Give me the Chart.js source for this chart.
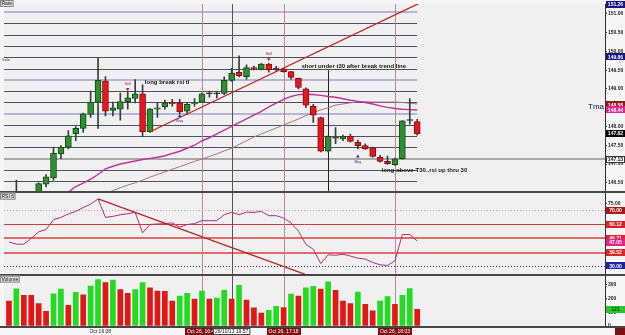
<!DOCTYPE html>
<html>
<head>
<meta charset="utf-8">
<title>Rate / RSI / Volume</title>
<script src="https://cdn.jsdelivr.net/npm/chart.js@4.4.1/dist/chart.umd.min.js"></script>
<style>
    html, body { margin: 0; padding: 0; background: #f4f4f4; overflow: hidden; }
    canvas { display: block; }
</style>
</head>
<body>
<canvas id="rateChart" width="625" height="335"></canvas>
<script>
// Candles, oldest first
const opens  = [146.15, 146.00, 146.10, 146.00, 146.20, 146.46, 146.63, 147.27, 147.45, 147.80,
                147.95, 148.32, 148.65, 149.21, 148.43, 148.46, 148.66, 148.75, 148.87, 147.86,
                148.46, 148.52, 148.63, 148.63, 148.41, 148.60, 148.65, 148.87, 148.88, 148.88,
                149.23, 149.44, 149.33, 149.57, 149.53, 149.66, 149.52, 149.53, 149.46, 149.28,
                149.00, 148.54, 148.24, 147.34, 147.69, 147.67, 147.74, 147.58, 147.49, 147.43,
                147.18, 147.07, 146.98, 147.14, 148.16, 148.13];
const highs  = [146.20, 146.57, 146.22, 146.20, 146.50, 146.72, 147.45, 147.49, 147.89, 148.00,
                148.36, 148.94, 149.82, 149.33, 148.65, 148.89, 148.94, 149.25, 149.11, 148.48,
                148.63, 148.70, 148.72, 148.72, 148.63, 148.74, 148.89, 148.94, 148.91, 149.32,
                149.55, 149.88, 149.64, 149.61, 149.68, 149.68, 149.60, 149.55, 149.47, 149.29,
                149.03, 148.59, 148.25, 147.75, 147.97, 147.77, 147.80, 147.64, 147.54, 147.45,
                147.23, 147.21, 147.16, 148.16, 148.74, 148.19];
const lows   = [145.90, 145.90, 145.95, 145.85, 146.10, 146.39, 146.57, 147.14, 147.40, 147.62,
                147.84, 148.24, 147.95, 148.28, 148.28, 148.17, 148.46, 148.63, 147.73, 147.84,
                148.24, 148.46, 148.54, 148.34, 148.32, 148.54, 148.65, 148.78, 148.76, 148.85,
                149.20, 149.32, 149.26, 149.51, 149.51, 149.45, 149.46, 149.45, 149.26, 149.00,
                148.50, 148.11, 147.32, 147.32, 147.54, 147.62, 147.58, 147.40, 147.39, 147.18,
                147.05, 146.99, 146.96, 147.13, 148.06, 147.77];
const closes = [146.00, 146.20, 146.00, 146.15, 146.48, 146.66, 147.29, 147.45, 147.75, 147.95,
                148.34, 148.65, 149.23, 148.41, 148.50, 148.66, 148.76, 148.87, 147.86, 148.47,
                148.50, 148.63, 148.61, 148.39, 148.59, 148.63, 148.87, 148.88, 148.87, 149.23,
                149.42, 149.35, 149.57, 149.54, 149.66, 149.51, 149.53, 149.46, 149.31, 149.04,
                148.57, 148.30, 147.34, 147.74, 147.70, 147.74, 147.60, 147.49, 147.40, 147.20,
                147.07, 147.01, 147.14, 148.15, 148.17, 147.80];

// moving averages on the price pane (magenta = fast, brown = slow)
const maFast = [null, null, null, null, null, null, null, null, 146.25, 146.40,
                146.49, 146.60, 146.72, 146.87, 146.94, 147.00, 147.04, 147.08, 147.12, 147.15,
                147.18, 147.22, 147.28, 147.34, 147.42, 147.50, 147.62, 147.70, 147.80, 147.90,
                148.00, 148.10, 148.20, 148.30, 148.40, 148.52, 148.62, 148.72, 148.80, 148.85,
                148.86, 148.85, 148.83, 148.80, 148.78, 148.74, 148.70, 148.67, 148.64, 148.60,
                148.55, 148.51, 148.48, 148.46, 148.45, 148.44];
const maSlow = [null, null, null, null, null, null, null, null, null, null,
                null, null, null, 146.22, 146.29, 146.37, 146.44, 146.50, 146.57, 146.65,
                146.72, 146.79, 146.86, 146.93, 147.00, 147.07, 147.13, 147.20, 147.27, 147.35,
                147.42, 147.52, 147.62, 147.72, 147.80, 147.88, 147.96, 148.04, 148.12, 148.20,
                148.29, 148.37, 148.44, 148.50, 148.57, 148.60, 148.63, 148.66, 148.66, 148.65,
                148.65, 148.65, 148.65, 148.64, 148.62, 148.60];

// RSI pane
const rsi = [47.2, 45.6, 45.6, 49.8, 54.5, 56.2, 63.3, 65.0, 67.4, 69.3,
             72.1, 74.5, 78.3, 65.0, 65.7, 66.9, 67.6, 68.6, 53.8, 59.8,
             60.2, 60.5, 61.0, 57.9, 59.8, 60.5, 62.6, 62.6, 62.6, 66.9,
             68.6, 66.9, 68.8, 68.6, 69.3, 66.2, 66.2, 64.5, 61.0, 55.0,
             45.5, 41.9, 31.6, 37.9, 37.6, 38.3, 37.0, 35.5, 34.8, 32.4,
             30.7, 30.2, 33.6, 52.6, 52.6, 47.9];
const rsiLevels = [70, 60.12, 49.71, 39.52, 30];

// Volume pane
const volumes = [181, 269, 221, 221, 162, 107, 233, 267, 150, 243,
                 226, 288, 336, 314, 331, 264, 236, 264, 314, 276,
                 252, 250, 181, 217, 236, 195, 252, 195, 202, 257,
                 195, 293, 188, 131, 93, 114, 143, 133, 231, 217,
                 276, 286, 267, 319, 257, 181, 162, 245, 157, 109,
                 181, 212, 157, 221, 271, 121];
const volDirs = ['r', 'g', 'r', 'r', 'r', 'r', 'g', 'g', 'r', 'g',
                 'r', 'g', 'g', 'r', 'g', 'r', 'r', 'g', 'g', 'r',
                 'r', 'r', 'r', 'g', 'g', 'r', 'g', 'r', 'g', 'g',
                 'r', 'g', 'r', 'r', 'r', 'g', 'g', 'r', 'g', 'r',
                 'g', 'g', 'r', 'g', 'r', 'r', 'r', 'g', 'r', 'r',
                 'g', 'g', 'r', 'g', 'g', 'r'];

// horizontal levels drawn over the candles
const darkLevels  = [150.75, 150.45, 150.15, 149.84, 149.54, 148.95, 148.65, 148.04,
                     147.75, 147.45, 147.16, 146.85, 146.55];
const lightLevels = [151.04, 149.25, 148.34];
const rangeLine = 147.13;

// trend lines (bar index, value)
const priceTrend = [{ x: 19, y: 147.86 }, { x: 56, y: 151.35 }];
const rsiTrend   = [{ x: 12, y: 78.3 }, { x: 40, y: 23.6 }];

// signals
const sellBars = [16, 35];
const sellAt   = [149.00, 149.79];
const buyBars  = [23, 47];
const buyAt    = [148.28, 147.20];

// axis ticks and value tags
const priceTicks = [146.5, 147, 147.5, 148, 148.5, 149, 149.5, 150, 150.5, 151];
const rsiTicks = [30, 40, 50, 60, 70, 75];
const volTicks = [0, 100, 200, 300];
const priceTags = [151.26, 149.86, 148.58, 148.44, 147.82, 147.13];
const rsiTags = [70, 60.12, 49.71, 47.05, 39.52, 30];

// time axis
const timeBars = [26, 30, 37, 52];
const timeLabels = ['Oct 26, 16:41', '26/10/13 19:57', 'Oct 26, 17:18', 'Oct 26, 18:03'];

// notes written on the chart
const notes = [
    { x: 18.3, y: 149.18, text: 'long break rsi tl' },
    { x: 39.4, y: 149.61, text: 'short under t30 after break trend line' },
    { x: 50.2, y: 146.84, text: 'long-above-T30..rsi up thru 30' }
];

const FONT = '"Liberation Sans", Arial, sans-serif';

function candleFill(i) {
    const d = closes[i] - opens[i];
    if (Math.abs(d) < 0.015) return '#333333';
    return d > 0 ? '#2f8f2f' : '#e8161c';
}
function candleEdge(i) {
    const d = closes[i] - opens[i];
    if (Math.abs(d) < 0.015) return '#333333';
    return d > 0 ? '#15491a' : '#7c1010';
}

// fixed width for every right hand axis
function fixAxis(scale) {
    scale.width = 20;
    scale.paddingTop = 0;
    scale.paddingBottom = 0;
}

function tag(ctx, y, text, bg, fg, edge) {
    ctx.fillStyle = bg;
    ctx.fillRect(606, Math.round(y - 3.5), 19, 7);
    if (edge) {
        ctx.strokeStyle = edge;
        ctx.lineWidth = 1;
        ctx.strokeRect(606.5, Math.round(y - 3.5) + 0.5, 18, 6);
    }
    ctx.fillStyle = fg;
    ctx.fillText(text, 615.5, y + 0.5);
}

function hLine(ctx, y, x0, x1, color, width, dash) {
    ctx.beginPath();
    ctx.setLineDash(dash || []);
    ctx.strokeStyle = color;
    ctx.lineWidth = width;
    const yy = width % 2 ? Math.round(y) + 0.5 : Math.round(y);
    ctx.moveTo(x0, yy);
    ctx.lineTo(x1, yy);
    ctx.stroke();
    ctx.setLineDash([]);
}

function vLine(ctx, x, y0, y1, color) {
    ctx.beginPath();
    ctx.strokeStyle = color;
    ctx.lineWidth = 1;
    const xx = Math.round(x) + 0.5;
    ctx.moveTo(xx, y0);
    ctx.lineTo(xx, y1);
    ctx.stroke();
}

function paneLabel(ctx, x, y, text) {
    ctx.font = '5px ' + FONT;
    const w = ctx.measureText(text).width + 3;
    ctx.fillStyle = '#dcdcdc';
    ctx.fillRect(x, y, w, 7);
    ctx.strokeStyle = '#888';
    ctx.lineWidth = 1;
    ctx.strokeRect(x + 0.5, y + 0.5, w - 1, 6);
    ctx.fillStyle = '#222';
    ctx.textAlign = 'left';
    ctx.textBaseline = 'middle';
    ctx.fillText(text, x + 1.5, y + 3.8);
}

// background, levels and marker lines under the data
const extras = {
    id: 'extras',
    beforeDraw(chart) {
        const ctx = chart.ctx;
        const a = chart.chartArea;
        ctx.save();
        ctx.fillStyle = '#f6f6f6';
        ctx.fillRect(0, 0, chart.width, chart.height);
        ctx.fillStyle = '#f0f0f0';
        ctx.fillRect(a.left, a.top, a.right - a.left, a.bottom - a.top);
        ctx.restore();
    },
    beforeDatasetsDraw(chart) {
        const { ctx, scales } = chart;
        const xs = scales.x, ps = scales.y, rs = scales.rsi;
        const a = chart.chartArea;
        const xEnd = xs.getPixelForValue(opens.length - 1);
        ctx.save();

        darkLevels.forEach(v => hLine(ctx, ps.getPixelForValue(v), a.left, xEnd, '#4e5064', 1));
        lightLevels.forEach(v => hLine(ctx, ps.getPixelForValue(v), a.left, xEnd, '#b4b4dc', 2));
        hLine(ctx, ps.getPixelForValue(rangeLine), a.left, a.right, '#a9a9a9', 2);

        // rsi bands
        hLine(ctx, rs.getPixelForValue(rsiLevels[0]), a.left, a.right, '#d49494', 1, [1, 2]);
        hLine(ctx, rs.getPixelForValue(rsiLevels[1]), a.left, a.right, '#d23838', 1);
        hLine(ctx, rs.getPixelForValue(rsiLevels[2]), a.left, a.right, '#e46a6a', 2);
        hLine(ctx, rs.getPixelForValue(rsiLevels[3]), a.left, a.right, '#e46a6a', 2);
        hLine(ctx, rs.getPixelForValue(rsiLevels[4]), a.left, a.right, '#2a2a6a', 1, [1, 2]);

        // time markers through all panes
        timeBars.forEach((b, k) => {
            vLine(ctx, xs.getPixelForValue(b), a.top, a.bottom, k === 1 ? '#555555' : '#b88c8c');
        });
        // marker for the short note
        vLine(ctx, xs.getPixelForValue(43), ps.getPixelForValue(149.5), ps.bottom, '#222222');
        ctx.restore();
    },
    afterDatasetsDraw(chart) {
        const { ctx, scales } = chart;
        const xs = scales.x, ps = scales.y, rs = scales.rsi, vs = scales.vol;
        const a = chart.chartArea;
        ctx.save();

        // pane separators
        [ps.bottom, rs.bottom, vs.bottom].forEach(y => hLine(ctx, y, 0, chart.width, '#474747', 2));

        // signal labels
        ctx.font = '4px ' + FONT;
        ctx.textAlign = 'center';
        ctx.textBaseline = 'middle';
        ctx.fillStyle = '#c01818';
        sellBars.forEach((b, k) => ctx.fillText('Sell', xs.getPixelForValue(b), ps.getPixelForValue(sellAt[k]) - 5));
        ctx.fillStyle = '#2030a0';
        buyBars.forEach((b, k) => ctx.fillText('Buy', xs.getPixelForValue(b), ps.getPixelForValue(buyAt[k]) + 5));

        // notes
        ctx.font = 'bold 6px ' + FONT;
        ctx.textAlign = 'left';
        ctx.fillStyle = '#1a1a1a';
        notes.forEach(n => ctx.fillText(n.text, xs.getPixelForValue(n.x), ps.getPixelForValue(n.y)));

        ctx.font = '4px ' + FONT;
        ctx.fillStyle = '#404070';
        ctx.fillText('Sale', 2, ps.getPixelForValue(149.78));

        ctx.font = '8px ' + FONT;
        ctx.textAlign = 'right';
        ctx.fillStyle = '#111';
        ctx.fillText('Tma', a.right - 1, ps.getPixelForValue(148.52));

        // value tags on the axes
        ctx.font = 'bold 5px ' + FONT;
        ctx.textAlign = 'center';
        const pBg = ['#16167e', '#16167e', '#8e1b1b', '#e0258e', '#050505', '#ffffff'];
        priceTags.forEach((v, k) => {
            tag(ctx, ps.getPixelForValue(v), v.toFixed(2), pBg[k], k === 5 ? '#111' : '#fff', k === 5 ? '#333' : null);
        });
        const rBg = ['#a31919', '#d42424', '#e3223a', '#e0258e', '#d62a2a', '#1c24a8'];
        rsiTags.forEach((v, k) => tag(ctx, rs.getPixelForValue(v), v.toFixed(2), rBg[k], '#fff'));
        const lastVol = volumes[volumes.length - 1];
        tag(ctx, vs.getPixelForValue(lastVol), String(lastVol), '#28c828', '#0b3b0b');

        // pane titles
        paneLabel(ctx, 0, 0, 'Rate');
        paneLabel(ctx, 0, rs.top + 1, 'RSI 6');
        paneLabel(ctx, 0, vs.top + 1, 'Volume');

        // time axis
        const ty = (a.bottom + chart.height) / 2 + 0.5;
        ctx.font = '5px ' + FONT;
        ctx.textAlign = 'center';
        ctx.textBaseline = 'middle';
        ctx.fillStyle = '#222';
        ctx.fillText('Oct 16 08', xs.getPixelForValue(12.3), ty);
        timeBars.forEach((b, k) => {
            const x = xs.getPixelForValue(b);
            const w = ctx.measureText(timeLabels[k]).width + 4;
            const white = k === 1;
            ctx.fillStyle = white ? '#ffffff' : '#7d1010';
            ctx.fillRect(Math.round(x - w / 2), a.bottom + 1, w, 7);
            if (white) {
                ctx.strokeStyle = '#444';
                ctx.strokeRect(Math.round(x - w / 2) + 0.5, a.bottom + 1.5, w - 1, 6);
            }
            ctx.fillStyle = white ? '#111' : '#fff';
            ctx.fillText(timeLabels[k], x, ty);
        });
        ctx.fillStyle = '#7d1010';
        ctx.fillRect(615, a.bottom + 1, 10, 7);
        ctx.restore();
    }
};

document.addEventListener('DOMContentLoaded', function () {
    const ctx = document.getElementById('rateChart').getContext('2d');
    const axisTicks = { font: { size: 5, family: FONT, weight: 'bold' }, color: '#222', padding: 1, autoSkip: false };
    const axisGrid = { drawOnChartArea: false, drawTicks: true, tickLength: 2, color: '#333' };

    new Chart(ctx, {
        type: 'bar',
        data: {
            datasets: [{
                type: 'scatter',
                data: sellBars.map((b, k) => ({ x: b, y: sellAt[k] })),
                yAxisID: 'y',
                pointStyle: 'triangle',
                rotation: 180,
                pointRadius: 2,
                backgroundColor: '#c81818',
                borderColor: '#c81818',
                borderWidth: 0,
                order: 0
            }, {
                type: 'scatter',
                data: buyBars.map((b, k) => ({ x: b, y: buyAt[k] })),
                yAxisID: 'y',
                pointStyle: 'triangle',
                pointRadius: 2,
                backgroundColor: '#1a2ab0',
                borderColor: '#1a2ab0',
                borderWidth: 0,
                order: 0
            }, {
                type: 'line',
                data: priceTrend,
                yAxisID: 'y',
                borderColor: '#c42424',
                borderWidth: 1.3,
                pointRadius: 0,
                order: 1
            }, {
                type: 'line',
                data: rsiTrend,
                yAxisID: 'rsi',
                borderColor: '#b82424',
                borderWidth: 1.3,
                pointRadius: 0,
                order: 1
            }, {
                // candle bodies
                data: opens.map((o, i) => ({ x: i, y: [o, closes[i]] })),
                yAxisID: 'y',
                backgroundColor: opens.map((o, i) => candleFill(i)),
                borderColor: opens.map((o, i) => candleEdge(i)),
                borderWidth: 1,
                borderSkipped: false,
                barThickness: 6,
                minBarLength: 1,
                grouped: false,
                order: 2
            }, {
                // wicks
                data: opens.map((o, i) => ({ x: i, y: [lows[i], highs[i]] })),
                yAxisID: 'y',
                backgroundColor: '#3c3c3c',
                barThickness: 1,
                grouped: false,
                order: 3
            }, {
                type: 'line',
                data: maFast.map((v, i) => ({ x: i, y: v })),
                yAxisID: 'y',
                borderColor: '#c4309a',
                borderWidth: 1.4,
                pointRadius: 0,
                order: 4
            }, {
                type: 'line',
                data: maSlow.map((v, i) => ({ x: i, y: v })),
                yAxisID: 'y',
                borderColor: '#aa7474',
                borderWidth: 1,
                pointRadius: 0,
                order: 4
            }, {
                type: 'line',
                data: rsi.map((v, i) => ({ x: i, y: v })),
                yAxisID: 'rsi',
                borderColor: '#b02c84',
                borderWidth: 1,
                pointRadius: 0,
                order: 2
            }, {
                data: volumes.map((v, i) => ({ x: i, y: v })),
                yAxisID: 'vol',
                backgroundColor: volDirs.map(d => d === 'g' ? '#22dc22' : '#e21818'),
                barThickness: 5,
                grouped: false,
                order: 2
            }]
        },
        options: {
            responsive: false,
            animation: false,
            devicePixelRatio: 1,
            events: [],
            layout: { padding: { left: 0, right: 0, top: 0, bottom: 8 } },
            plugins: {
                legend: { display: false },
                tooltip: { enabled: false }
            },
            scales: {
                x: {
                    type: 'linear',
                    min: -0.67,
                    max: 80.3,
                    offset: false,
                    display: false
                },
                y: {
                    type: 'linear',
                    position: 'right',
                    stack: 'panes',
                    stackWeight: 190,
                    min: 146.263,
                    max: 151.263,
                    beginAtZero: false,
                    afterBuildTicks: s => { s.ticks = priceTicks.map(v => ({ value: v })); },
                    afterFit: fixAxis,
                    ticks: Object.assign({ callback: v => v.toFixed(2) }, axisTicks),
                    grid: axisGrid,
                    border: { color: '#333' }
                },
                rsi: {
                    type: 'linear',
                    position: 'right',
                    stack: 'panes',
                    stackWeight: 84,
                    min: 23.57,
                    max: 83.57,
                    beginAtZero: false,
                    afterBuildTicks: s => { s.ticks = rsiTicks.map(v => ({ value: v })); },
                    afterFit: fixAxis,
                    ticks: Object.assign({ callback: v => v.toFixed(2) }, axisTicks),
                    grid: axisGrid,
                    border: { color: '#333' }
                },
                vol: {
                    type: 'linear',
                    position: 'right',
                    stack: 'panes',
                    stackWeight: 53,
                    min: -7,
                    max: 371,
                    beginAtZero: false,
                    afterBuildTicks: s => { s.ticks = volTicks.map(v => ({ value: v })); },
                    afterFit: fixAxis,
                    ticks: Object.assign({ callback: v => String(v) }, axisTicks),
                    grid: axisGrid,
                    border: { color: '#333' }
                }
            }
        },
        plugins: [extras]
    });
});
</script>
</body>
</html>
